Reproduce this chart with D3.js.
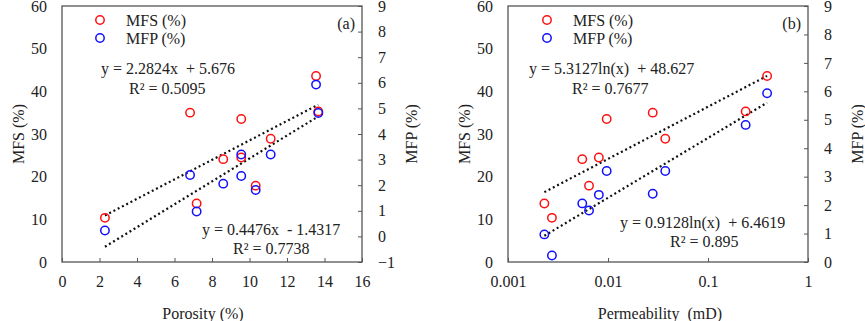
<!DOCTYPE html>
<html>
<head>
<meta charset="utf-8">
<script src="https://cdn.jsdelivr.net/npm/d3@7"></script>
<style>
  body { margin: 0; background: #fff; }
  text { font-family: "Liberation Serif", "Times New Roman", serif; font-size: 16px; fill: #222; white-space: pre; }
</style>
</head>
<body>
<svg id="drawing_region"></svg>
<script>
// samples (10 cores)
const porosity     = [2.29, 6.83, 7.18, 8.6, 9.56, 9.56, 10.33, 11.13, 13.55, 13.67];
const permeability = [0.00275, 0.028, 0.00231, 0.00553, 0.0097, 0.0081, 0.00646, 0.0374, 0.39, 0.238];
const mfs          = [10.35, 35.0, 13.7, 24.1, 33.5, 24.5, 17.9, 28.9, 43.6, 35.3];
const mfp          = [0.23, 2.40, 0.97, 2.06, 3.20, 2.36, 1.81, 3.20, 5.93, 4.82];

// trendline coefficients shown on the chart [slope, intercept]
const fitA_mfs = [2.2824, 5.676];
const fitA_mfp = [0.4476, -1.4317];
const fitB_mfs = [5.3127, 48.627];
const fitB_mfp = [0.9128, 6.4619];

const xticksA = [0, 2, 4, 6, 8, 10, 12, 14, 16];
const xticksB = [0.001, 0.01, 0.1, 1];
const yticksL = [0, 10, 20, 30, 40, 50, 60];
const yticksRA = [-1, 0, 1, 2, 3, 4, 5, 6, 7, 8, 9];
const yticksRB = [0, 1, 2, 3, 4, 5, 6, 7, 8, 9];

const svg = d3.select('#drawing_region').attr('width', 865).attr('height', 321);

const TOP = 6, BOTTOM = 262;

function panel(cfg) {
    const g = svg.append('g');
    const x = cfg.log ? d3.scaleLog().domain([0.001, 1]).range([cfg.left, cfg.left + 300])
                      : d3.scaleLinear().domain([0, 16]).range([cfg.left, cfg.left + 300]);
    const yl = d3.scaleLinear().domain([0, 60]).range([BOTTOM, TOP]);
    const yr = d3.scaleLinear().domain(cfg.yrDomain).range([BOTTOM, TOP]);

    // frame
    g.append('rect').attr('x', cfg.left).attr('y', TOP).attr('width', 300).attr('height', BOTTOM - TOP)
        .attr('fill', 'none').attr('stroke', '#555').attr('stroke-width', 1.3);

    // x axis, ticks inside
    const xa = g.append('g').attr('transform', `translate(0,${BOTTOM})`)
        .call(d3.axisBottom(x).tickValues(cfg.xticks).tickSize(-4).tickPadding(14)
              .tickFormat(d => cfg.log ? String(d) : d));
    xa.select('.domain').remove();
    xa.selectAll('line').attr('stroke', '#555');
    xa.selectAll('text').attr('font-size', 16).attr('font-family', null).attr('fill', '#222');

    // left axis, no tick marks
    const ya = g.append('g').attr('transform', `translate(${cfg.left},0)`)
        .call(d3.axisLeft(yl).tickValues(yticksL).tickSize(0).tickPadding(15));
    ya.select('.domain').remove();
    ya.selectAll('text').attr('font-size', 16).attr('font-family', null).attr('fill', '#222').attr('dy', '0.32em');

    // right axis, ticks inside
    const yra = g.append('g').attr('transform', `translate(${cfg.left + 300},0)`)
        .call(d3.axisRight(yr).tickValues(cfg.yrTicks).tickSize(-4).tickPadding(16));
    yra.select('.domain').remove();
    yra.selectAll('line').attr('stroke', '#555');
    yra.selectAll('text').attr('font-size', 16).attr('font-family', null).attr('fill', '#222').attr('dy', '0.32em');

    // axis titles
    g.append('text').attr('transform', `translate(${cfg.left - 44},134) rotate(-90)`)
        .attr('text-anchor', 'middle').attr('dy', '0.35em').text('MFS (%)');
    g.append('text').attr('transform', `translate(${cfg.left + 349},134) rotate(-90)`)
        .attr('text-anchor', 'middle').attr('dy', '0.35em').text('MFP (%)');
    g.append('text').attr('x', cfg.xlabelX).attr('y', 313).attr('dy', '0.35em')
        .attr('text-anchor', 'middle').text(cfg.xlabel);

    // trendlines
    const xs = cfg.log ? permeability : porosity;
    const xmin = d3.min(xs), xmax = d3.max(xs);
    const f = (c, v) => cfg.log ? c[0] * Math.log(v) + c[1] : c[0] * v + c[1];
    const samp = d3.range(0, 41).map(i => cfg.log ? xmin * Math.pow(xmax / xmin, i / 40) : xmin + (xmax - xmin) * i / 40);
    const drawFit = (c, ys) => g.append('path')
        .attr('d', d3.line().x(v => x(v)).y(v => ys(f(c, v)))(samp))
        .attr('fill', 'none').attr('stroke', '#111').attr('stroke-width', 2.2)
        .attr('stroke-dasharray', '2 2.8');
    drawFit(cfg.fitMfs, yl);
    drawFit(cfg.fitMfp, yr);

    // points
    g.selectAll('circle.mfs').data(xs).enter().append('circle')
        .attr('cx', (d) => x(d)).attr('cy', (d, i) => yl(mfs[i])).attr('r', 4.2)
        .attr('fill', 'none').attr('stroke', '#ff1010').attr('stroke-width', 1.5);
    g.selectAll('circle.mfp').data(xs).enter().append('circle')
        .attr('cx', (d) => x(d)).attr('cy', (d, i) => yr(mfp[i])).attr('r', 4.2)
        .attr('fill', 'none').attr('stroke', '#1010ff').attr('stroke-width', 1.5);

    // legend
    const lg = [['MFS (%)', '#ff1010', 20], ['MFP (%)', '#1010ff', 38]];
    lg.forEach(l => {
        g.append('circle').attr('cx', cfg.legX).attr('cy', l[2]).attr('r', 4.2)
            .attr('fill', 'none').attr('stroke', l[1]).attr('stroke-width', 1.5);
        g.append('text').attr('x', cfg.legX + 26).attr('y', l[2]).attr('dy', '0.35em').text(l[0]);
    });
    g.append('text').attr('x', cfg.left + 293).attr('y', 23).attr('dy', '0.35em')
        .attr('text-anchor', 'end').attr('font-size', 17).text(cfg.tag);

    // equations
    cfg.eqs.forEach(e => {
        g.append('text').attr('x', e[0]).attr('y', e[1]).attr('dy', '0.35em').text(e[2]);
    });
}

panel({
    left: 62, log: false, xticks: xticksA, yrDomain: [-1, 9], yrTicks: yticksRA,
    xlabel: 'Porosity (%)', xlabelX: 203, tag: '(a)', legX: 100,
    fitMfs: fitA_mfs, fitMfp: fitA_mfp,
    eqs: [[101, 68, 'y = 2.2824x  + 5.676'], [129, 88, 'R² = 0.5095'],
          [202, 229, 'y = 0.4476x  - 1.4317'], [233, 248, 'R² = 0.7738']]
});

panel({
    left: 508, log: true, xticks: xticksB, yrDomain: [0, 9], yrTicks: yticksRB,
    xlabel: 'Permeability  (mD)', xlabelX: 660, tag: '(b)', legX: 547,
    fitMfs: fitB_mfs, fitMfp: fitB_mfp,
    eqs: [[529, 68, 'y = 5.3127ln(x)  + 48.627'], [572, 88, 'R² = 0.7677'],
          [620, 222, 'y = 0.9128ln(x)  + 6.4619'], [670, 241, 'R² = 0.895']]
});
</script>
</body>
</html>
